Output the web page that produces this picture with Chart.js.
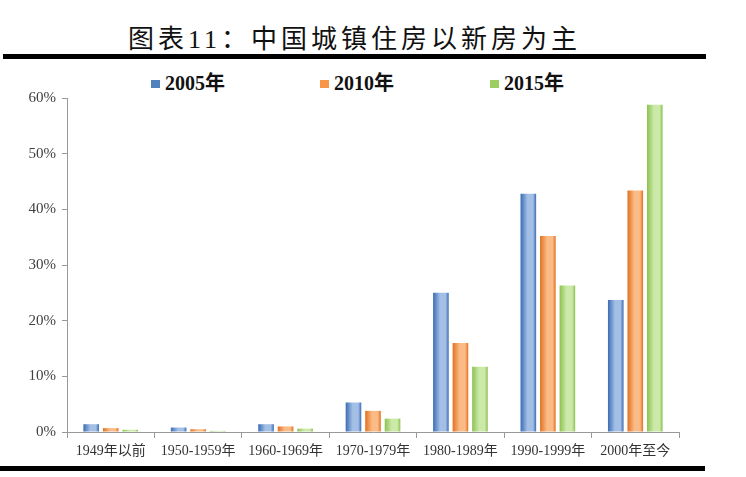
<!DOCTYPE html>
<html>
<head>
<meta charset="utf-8">
<script src="https://cdn.jsdelivr.net/npm/chart.js@4"></script>
<style>
  body { margin: 0; background: #fff; width: 746px; height: 477px; position: relative; overflow: hidden; }
  #title { position: absolute; left: 128px; top: 18px; font: 26px "Liberation Serif", "Noto Sans CJK SC", serif; letter-spacing: 4px; color: #111; white-space: nowrap; }
  .rule { position: absolute; background: #000; }
  #legend { position: absolute; top: 67px; left: 0; width: 746px; height: 22px; }
  .item { position: absolute; top: 0; font: bold 20px "Liberation Serif", "Noto Sans CJK SC", serif; color: #111; white-space: nowrap; }
  .box { display: inline-block; width: 9px; height: 8px; margin-right: 5px; vertical-align: 2px; }
  #wrap { position: absolute; left: 0; top: 83px; width: 746px; height: 381px; }
</style>
</head>
<body>
<div id="title">图表11：中国城镇住房以新房为主</div>
<div class="rule" style="left:3px; top:54px; width:703px; height:5px;"></div>
<div id="legend"></div>
<div id="wrap"><canvas id="chart" width="746" height="381"></canvas></div>
<div class="rule" style="left:0; top:466px; width:705px; height:5px;"></div>

<script>
const categories = ["1949年以前", "1950-1959年", "1960-1969年", "1970-1979年", "1980-1989年", "1990-1999年", "2000年至今"];
const seriesNames = ["2005年", "2010年", "2015年"];
const share2005 = [1.4, 0.8, 1.4, 5.3, 25.0, 42.8, 23.7];
const share2010 = [0.7, 0.5, 1.0, 3.8, 16.0, 35.2, 43.4];
const share2015 = [0.4, 0.2, 0.6, 2.4, 11.7, 26.3, 58.8];
const yTicks = [0, 10, 20, 30, 40, 50, 60];

const palette = [
  { dark: "#3a6cb4", light: "#a3bfe6", key: "#4f81bd" },
  { dark: "#e2701f", light: "#fbbb86", key: "#f79646" },
  { dark: "#8cc250", light: "#cbe9a8", key: "#9bcf5f" }
];
const legendLeft = [151, 320, 490];

const catPct = 0.67;
const barPct = 0.8;

// horizontal shading so the bars look like the rounded office-style columns
function barFill(ctx) {
  const chart = ctx.chart;
  const colors = palette[ctx.datasetIndex];
  const xScale = chart.scales.x;
  if (ctx.type !== "data" || !xScale || !chart.chartArea) return colors.key;
  const slot = xScale.width / categories.length * catPct / 3;
  const center = xScale.getPixelForValue(ctx.dataIndex) + (ctx.datasetIndex - 1) * slot;
  const half = slot * barPct / 2;
  const g = chart.ctx.createLinearGradient(center - half, 0, center + half, 0);
  g.addColorStop(0, colors.dark);
  g.addColorStop(0.45, colors.light);
  g.addColorStop(0.8, colors.light);
  g.addColorStop(1, colors.dark);
  return g;
}

const legend = document.getElementById("legend");
seriesNames.forEach((name, i) => {
  const item = document.createElement("div");
  item.className = "item";
  item.style.left = legendLeft[i] + "px";
  const box = document.createElement("span");
  box.className = "box";
  box.style.background = palette[i].key;
  item.appendChild(box);
  item.appendChild(document.createTextNode(name));
  legend.appendChild(item);
});

const tickFont = { family: "'Liberation Serif', 'Noto Sans CJK SC', serif", size: 14 };

new Chart(document.getElementById("chart"), {
  type: "bar",
  data: {
    labels: categories,
    datasets: [share2005, share2010, share2015].map((values, i) => ({
      label: seriesNames[i],
      data: values,
      backgroundColor: barFill,
      borderWidth: 0,
      categoryPercentage: catPct,
      barPercentage: barPct
    }))
  },
  options: {
    responsive: false,
    animation: false,
    layout: { padding: { left: 0, right: 67, top: 0, bottom: 0 } },
    plugins: {
      legend: { display: false },
      tooltip: { enabled: false }
    },
    scales: {
      x: {
        grid: { drawOnChartArea: false, drawTicks: true, tickLength: 6, color: "#999" },
        border: { color: "#999" },
        ticks: { font: tickFont, color: "#333", padding: 5, maxRotation: 0, autoSkip: false },
        afterFit: s => { s.height = 32; }
      },
      y: {
        min: 0,
        max: 60,
        afterBuildTicks: s => { s.ticks = yTicks.map(v => ({ value: v })); },
        grid: { drawOnChartArea: false, drawTicks: true, tickLength: 5, color: "#999" },
        border: { color: "#999" },
        ticks: { font: { family: "'Liberation Serif', serif", size: 15 }, color: "#404040", padding: 6, callback: v => v + "%" },
        afterFit: s => { s.width = 67; }
      }
    }
  }
});
</script>
</body>
</html>
